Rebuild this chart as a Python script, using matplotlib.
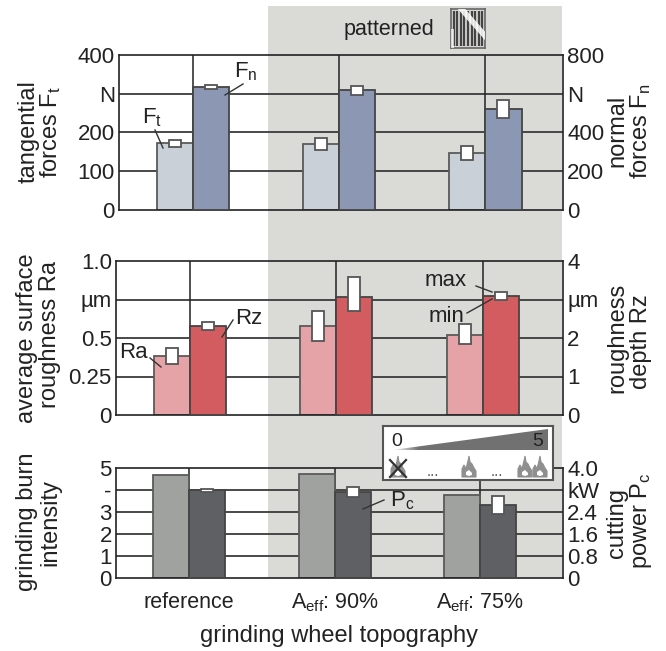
import numpy as np
import matplotlib
matplotlib.use('agg')
import matplotlib.pyplot as plt
from matplotlib.patches import Rectangle, Polygon, PathPatch
from matplotlib.path import Path

plt.rcParams['font.family'] = ['Liberation Sans', 'DejaVu Sans']
plt.rcParams['mathtext.fontset'] = 'custom'
plt.rcParams['mathtext.rm'] = 'Liberation Sans'
plt.rcParams['mathtext.default'] = 'rm'

W, H = 666, 651

groups = ['reference', r'A$_{\mathrm{eff}}$: 90%', r'A$_{\mathrm{eff}}$: 75%']

ft = [172, 170, 147]
ft_lo = [163, 155, 130]
ft_hi = [181, 186, 164]
fn = [636, 619, 521]
fn_lo = [626, 593, 473]
fn_hi = [645, 641, 568]

ra = [0.382, 0.577, 0.52]
ra_lo = [0.333, 0.48, 0.462]
ra_hi = [0.432, 0.674, 0.594]
rz = [2.315, 3.06, 3.09]
rz_lo = [2.22, 2.71, 2.98]
rz_hi = [2.42, 3.59, 3.2]

burn = [4.7, 4.73, 3.77]
pc = [3.19, 3.14, 2.66]
pc_lo = [3.11, 2.95, 2.33]
pc_hi = [3.25, 3.31, 2.98]

fig = plt.figure(figsize=(W / 100, H / 100), dpi=100, facecolor='white')


def fx(px):
    return px / W


def fy(py):
    return 1 - py / H


def add_axes(left, top, right, bottom):
    return fig.add_axes([fx(left), fy(bottom), (right - left) / W, (bottom - top) / H])


def ftext(px, py, s, size=16, **kw):
    kw.setdefault('ha', 'center')
    kw.setdefault('va', 'center')
    return fig.text(fx(px), fy(py), s, fontsize=size, color='#222222', **kw)


def leader(x0, y0, x1, y1, color='#333333'):
    fig.add_artist(plt.Line2D([fx(x0), fx(x1)], [fy(y0), fy(y1)], color=color, lw=1, zorder=20))


# grey area behind the patterned wheels
fig.add_artist(Rectangle((fx(268), fy(578)), (562 - 268) / W, (578 - 6) / H, color='#dadbd6', lw=0, zorder=0))


def panel(box, c0, dx, ymax, ymax2, yt, ytl, yt2, ytl2, v1, v2, col1, col2, lo1=None, hi1=None, lo2=None, hi2=None):
    left, top, right, bottom = box
    ax = add_axes(left, top, right, bottom)
    ax.patch.set_alpha(0)
    ax.set_xlim((left - c0) / dx, (right - c0) / dx)
    ax.set_ylim(0, ymax)
    w = 36 / dx
    box_w = 12 / dx
    x = np.arange(3)
    for t in yt[1:-1]:
        ax.axhline(t, color='#3a3a3a', lw=1.3, zorder=1)
    ax.vlines(x, 0, ymax, color='#222222', lw=1.1, zorder=1)
    ax.bar(x - w / 2, v1, w, color=col1, edgecolor='#5a5a5a', lw=1.3, zorder=2)
    if lo1 is not None:
        ax.bar(x - w / 2, np.array(hi1) - np.array(lo1), box_w, bottom=lo1, color='white', edgecolor='#555555', lw=1.3, zorder=3)
    ax.set_yticks(yt)
    ax.set_yticklabels(ytl)
    ax.set_xticks([])
    ax.tick_params(axis='y', length=0, labelsize=16, pad=3, colors='#222222')
    for s in ['left', 'top', 'right', 'bottom']:
        ax.spines[s].set_linewidth(1.2)
        ax.spines[s].set_color('#222222')
    ax2 = ax.twinx()
    ax2.set_ylim(0, ymax2)
    ax2.bar(x + w / 2, v2, w, color=col2, edgecolor='#444444', lw=1.3, zorder=2)
    if lo2 is not None:
        ax2.bar(x + w / 2, np.array(hi2) - np.array(lo2), box_w, bottom=lo2, color='white', edgecolor='#555555', lw=1.3, zorder=3)
    ax2.set_yticks(yt2)
    ax2.set_yticklabels(ytl2)
    ax2.tick_params(axis='y', length=0, labelsize=16, pad=3, colors='#222222')
    ax2.spines[:].set_visible(False)
    return ax, ax2


panel((119, 55, 563, 210), 192.5, 146.5, 400, 800, [0, 100, 200, 300, 400], ['0', '100', '200', 'N', '400'],
      [0, 200, 400, 600, 800], ['0', '200', '400', 'N', '800'],
      ft, fn, '#c9d0d8', '#8c97b3', ft_lo, ft_hi, fn_lo, fn_hi)

panel((116, 261, 563, 415), 189.5, 146.5, 1.0, 4, [0, 0.25, 0.5, 0.75, 1.0], ['0', '0.25', '0.5', 'µm', '1.0'],
      [0, 1, 2, 3, 4], ['0', '1', '2', 'µm', '4'],
      ra, rz, '#e5a2a7', '#d35c60', ra_lo, ra_hi, rz_lo, rz_hi)

ax3, ax3b = panel((116, 468, 563, 578), 189, 145.5, 5, 4.0, [0, 1, 2, 3, 4, 5], ['0', '1', '2', '3', '-', '5'],
                  [0, 0.8, 1.6, 2.4, 3.2, 4.0], ['0', '0.8', '1.6', '2.4', 'kW', '4.0'],
                  burn, pc, '#a0a2a0', '#5f6063', None, None, pc_lo, pc_hi)
ax3.set_xticks(np.arange(3))
ax3.set_xticklabels(groups)
ax3.tick_params(axis='x', length=0, labelsize=15.5, pad=10, colors='#222222')

# axis titles
ftext(29, 132, 'tangential', rotation=90, size=17)
ftext(51, 132, r'forces F$_{\mathrm{t}}$', rotation=90, size=17)
ftext(617, 131, 'normal', rotation=90, size=17)
ftext(641, 131, r'forces F$_{\mathrm{n}}$', rotation=90, size=17)
ftext(27, 338, 'average surface', rotation=90, size=17)
ftext(50, 335, 'roughness Ra', rotation=90, size=17)
ftext(617, 338, 'roughness', rotation=90, size=17)
ftext(641, 342, 'depth Rz', rotation=90, size=17)
ftext(27, 522, 'grinding burn', rotation=90, size=17)
ftext(50, 523, 'intensity', rotation=90, size=17)
ftext(617, 523, 'cutting', rotation=90, size=17)
ftext(641, 521, r'power P$_{\mathrm{c}}$', rotation=90, size=17)
ftext(339, 636, 'grinding wheel topography', size=17)

# labels inside the panels
ftext(152, 118, r'F$_{\mathrm{t}}$', size=16)
leader(155, 130, 163, 148)
ftext(246, 72, r'F$_{\mathrm{n}}$', size=16)
leader(243, 84, 225, 95)
ftext(133, 353, 'Ra', size=16)
leader(150, 358, 161, 367)
ftext(249, 318, 'Rz', size=16)
leader(233, 320, 222, 337)
ftext(446, 280, 'max', size=16)
leader(476, 286, 492, 292)
ftext(446, 316, 'min', size=16)
leader(467, 313, 492, 299)
ftext(402, 501, r'P$_{\mathrm{c}}$', size=16)
leader(384, 500, 363, 509)

# patterned wheel icon
ftext(389, 29, 'patterned', size=15.5)
wheel = add_axes(451, 9, 485, 48)
wheel.set_xlim(0, 1)
wheel.set_ylim(0, 1)
wheel.set_xticks([])
wheel.set_yticks([])
wheel.set_facecolor('#d5d5d2')
wheel.vlines(np.linspace(0.08, 0.92, 9), 0.04, 0.96, color='#444444', lw=1.6)
wheel.add_patch(Polygon([(0.2, 1), (0.42, 1), (1, 0.42), (1, 0.2)], color='white', alpha=0.85, lw=0, zorder=3))
wheel.add_patch(Polygon([(0, 0.5), (0.1, 0.5), (0.1, 0), (0, 0)], color='white', alpha=0.7, lw=0, zorder=3))
for s in wheel.spines.values():
    s.set_color('#666666')
    s.set_linewidth(1.2)

# burn legend box
leg = add_axes(383, 426, 553, 480)
leg.set_xlim(383, 553)
leg.set_ylim(480, 426)
leg.set_xticks([])
leg.set_yticks([])
leg.set_zorder(10)
leg.set_facecolor('white')
for s in leg.spines.values():
    s.set_color('#555555')
    s.set_linewidth(1.5)
shade = np.clip(np.linspace(0, 6, 150), 0, 1).reshape(1, -1)
grad = leg.imshow(shade, cmap='gray_r', vmin=0, vmax=1.8, extent=(392, 548, 450, 429), aspect='auto', zorder=1)
grad.set_clip_path(Polygon([(392, 450), (548, 429), (548, 450)], transform=leg.transData))
leg.set_xlim(383, 553)
leg.set_ylim(480, 426)
leg.text(397, 442, '0', fontsize=14, ha='center', va='center', color='#222222', zorder=3)
leg.text(538, 442, '5', fontsize=14, ha='center', va='center', color='#222222', zorder=3)
leg.text(433, 472, '...', fontsize=11, ha='center', va='center', color='#555555')
leg.text(497, 472, '...', fontsize=11, ha='center', va='center', color='#555555')


def flame(cx, base, size=1.0, color='#8f8f8f'):
    verts = [(0, 0), (-7, 0), (-7, -8), (-5, -12), (-4, -10), (-3, -9), (-2, -12), (-1, -16), (0, -21),
             (1, -15), (3, -13), (5, -9), (7, -6), (7, 0), (0, 0)]
    codes = [Path.MOVETO] + [Path.LINETO] * (len(verts) - 1)
    v = np.array(verts, dtype=float) * size + [cx, base]
    leg.add_patch(PathPatch(Path(v, codes), fc=color, ec=color, lw=0.8, zorder=2))
    inner = np.array([(0, -1), (-3, -2), (-3, -5), (0, -7), (3, -4), (3, -2)], dtype=float) * size + [cx, base]
    leg.add_patch(Polygon(inner, fc='white', lw=0, zorder=2))


flame(398, 477)
flame(469, 477)
flame(525, 477)
flame(540, 477)
leg.plot([390, 406], [460, 477], color='#333333', lw=1.6, zorder=4)
leg.plot([390, 406], [477, 460], color='#333333', lw=1.6, zorder=4)

fig.savefig('out.png', dpi=100)
